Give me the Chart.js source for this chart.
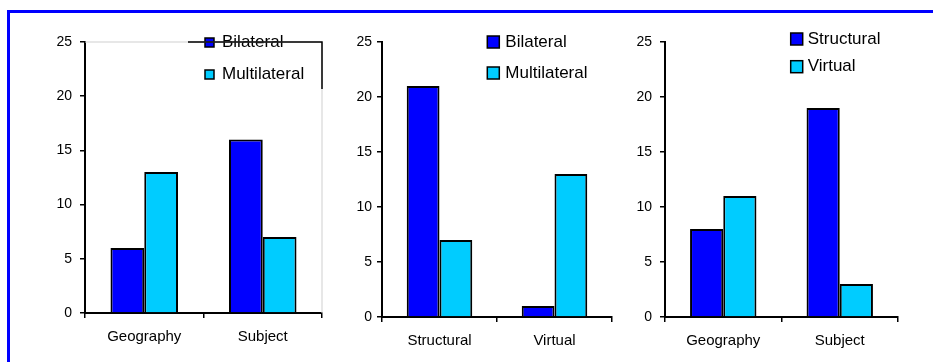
<!DOCTYPE html>
<html>
<head>
<meta charset="utf-8">
<script src="https://cdn.jsdelivr.net/npm/chart.js@4.4.1/dist/chart.umd.min.js"></script>
<style>
  body { margin: 0; width: 933px; height: 362px; overflow: hidden; background: #fff; position: relative; }
  #frame { position: absolute; left: 7px; top: 10px; width: 1000px; height: 500px; border: 3px solid #0000ff; }
  .box { position: absolute; top: 0; height: 362px; }
</style>
</head>
<body>
<div id="frame"></div>
<div class="box" style="left:15px;width:320px"><canvas id="chart1"></canvas></div>
<div class="box" style="left:335px;width:290px"><canvas id="chart2"></canvas></div>
<div class="box" style="left:625px;width:300px"><canvas id="chart3"></canvas></div>
<script>
//data
const yMin = 0, yMax = 25, yStep = 5

const labels1 = ['Geography', 'Subject']
const bilateral1 = [6, 16]
const multilateral1 = [13, 7]

const labels2 = ['Structural', 'Virtual']
const bilateral2 = [21, 1]
const multilateral2 = [7, 13]

const labels3 = ['Geography', 'Subject']
const structural3 = [8, 19]
const virtual3 = [11, 3]

const BLUE = '#0000ff'
const CYAN = '#00ccff'
const FONT = '"Liberation Sans", Arial, sans-serif'

//------------------------------------------

//legend drawn inside the plot + odd frame of the first chart
const boxLegend = {
  id: 'boxLegend',
  afterDraw(chart, args, o) {
    const {ctx, chartArea: {top, bottom, left, right}} = chart
    ctx.save()
    ctx.font = '17px ' + FONT
    ctx.textBaseline = 'middle'
    chart.data.datasets.forEach((ds, i) => {
      const x = right - o.dx
      const y = top + o.dy + i * o.gap
      ctx.fillStyle = ds.backgroundColor
      ctx.fillRect(x, y - o.box / 2, o.box, o.box)
      ctx.lineWidth = 1.5
      ctx.strokeStyle = '#000'
      ctx.strokeRect(x, y - o.box / 2, o.box, o.box)
      ctx.fillStyle = '#000'
      ctx.fillText(ds.label, x + o.box + o.space, y)
    })
    if (o.frame) {
      ctx.lineWidth = 1
      ctx.strokeStyle = '#cfcfcf'
      ctx.beginPath()
      ctx.moveTo(left, top); ctx.lineTo(right, top); ctx.lineTo(right, bottom)
      ctx.stroke()
      ctx.lineWidth = 1.5
      ctx.strokeStyle = '#000'
      ctx.beginPath()
      ctx.moveTo(right - o.frame.dx, top); ctx.lineTo(right, top); ctx.lineTo(right, top + o.frame.h)
      ctx.stroke()
    }
    ctx.restore()
  }
}

//------------------------------------------

function makeChart(id, labels, series, names, lay, legend) {
  return new Chart(document.getElementById(id), {
    type: 'bar',
    data: {
      labels: labels,
      datasets: series.map((d, i) => ({
        label: names[i],
        data: d,
        backgroundColor: i === 0 ? BLUE : CYAN,
        borderColor: '#000',
        borderWidth: 2,
        categoryPercentage: 0.57,
        barPercentage: 1
      }))
    },
    options: {
      responsive: true,
      maintainAspectRatio: false,
      animation: false,
      layout: {padding: {top: 42, left: 0, right: lay.right, bottom: lay.bottom}},
      scales: {
        x: {
          grid: {drawOnChartArea: false, color: '#000', tickLength: 5, lineWidth: 1.5, offset: true},
          border: {color: '#000', width: 2},
          ticks: {color: '#000', font: {size: 15, family: FONT}, padding: 10, maxRotation: 0},
          afterFit: (s) => { s.height = 40 }
        },
        y: {
          min: yMin, max: yMax,
          grid: {drawOnChartArea: false, color: '#000', tickLength: 5, lineWidth: 1.5},
          border: {color: '#000', width: 2},
          ticks: {stepSize: yStep, color: '#000', font: {size: 14, family: FONT}, padding: lay.tickPad},
          afterFit: (s) => { s.width = lay.yWidth }
        }
      },
      plugins: {
        legend: {display: false},
        tooltip: {enabled: false},
        boxLegend: legend
      }
    },
    plugins: [boxLegend]
  })
}

//------------------------------------------

makeChart('chart1', labels1, [bilateral1, multilateral1], ['Bilateral', 'Multilateral'],
  {right: 13, bottom: 9, yWidth: 70, tickPad: 8},
  {dx: 117, dy: 0.5, gap: 32, box: 9, space: 8, frame: {dx: 134, h: 47}})

makeChart('chart2', labels2, [bilateral2, multilateral2], ['Bilateral', 'Multilateral'],
  {right: 13, bottom: 5, yWidth: 47, tickPad: 5},
  {dx: 124.7, dy: 0, gap: 31, box: 12, space: 6})

makeChart('chart3', labels3, [structural3, virtual3], ['Structural', 'Virtual'],
  {right: 27, bottom: 5, yWidth: 40, tickPad: 8},
  {dx: 107.3, dy: -3, gap: 27.7, box: 12, space: 5})
</script>
</body>
</html>
